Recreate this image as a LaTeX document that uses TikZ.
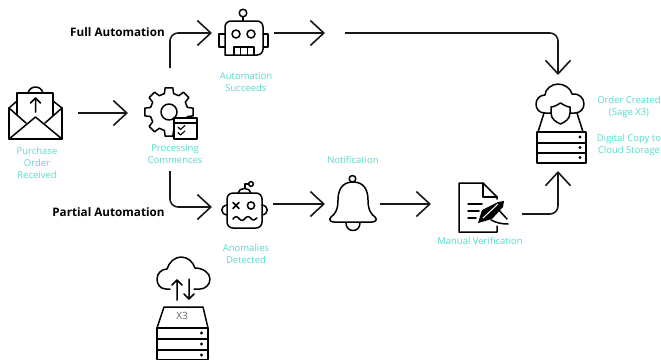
\documentclass[tikz,border=0pt]{standalone}
\usepackage{fontspec}
\setmainfont{Open Sans}
\usetikzlibrary{arrows.meta,calc}
\definecolor{teal1}{HTML}{58DBCF}
\tikzset{
  x=1pt,y=-1pt,
  icon/.style={draw=black,line width=1.5pt,line join=round,line cap=round},
  thin icon/.style={draw=black,line width=1.1pt,line join=round,line cap=round},
  slot/.style={inner sep=0pt,outer sep=0pt,minimum width=#1},
  conn/.style={draw=black!90,line width=1.6pt,-{Straight Barb[length=13.5pt,width=25pt,line width=1.6pt]},rounded corners=8pt},
  lab/.style={text=teal1,font=\fontsize{9.5}{12.2}\selectfont,align=center,inner sep=0pt},
  headlab/.style={text=black,font=\fontsize{11.7}{14}\selectfont\bfseries,inner sep=0pt},
}
\begin{document}
\begin{tikzpicture}
\useasboundingbox (0,0) rectangle (661,360);
\fill[white] (0,0) rectangle (661,360);

% invisible slots carrying the connector ends
\node[slot=54pt,minimum height=54pt] (mail) at (35,113) {};
\node[slot=52pt,minimum height=116pt] (gear) at (170,113) {};
\node[slot=62pt,minimum height=50pt] (robot) at (243,33) {};
\node[slot=61pt,minimum height=50pt] (bad) at (242.5,207) {};
\node[slot=55pt,minimum height=54pt] (bell) at (352.5,204) {};
\node[slot=91pt,minimum height=50pt] (verif) at (476.5,214) {};
\node[slot=50pt,minimum height=96pt] (order) at (558,123) {};
\coordinate (robotout) at (325,33);
\coordinate (longin) at (345,33);

% connectors
\draw[conn,shorten <=16pt,shorten >=16pt] (mail.east) -- (gear.west);
\draw[conn,shorten <=-13pt] (gear.north) |- (robot.west);
\draw[conn] (gear.south) |- (bad.west);
\draw[conn] (robot.east) -- (robotout);
\draw[conn] (longin) -| (order.north);
\draw[conn] (bad.east |- bell.west) -- (bell.west);
\draw[conn] (bell.east) -- (bell.east -| verif.west);
\draw[conn] (verif.east) -| (order.south);

% envelope
\draw[icon] (9,108) -- (9,139) -- (62,139) -- (62,108);
\draw[icon] (9,139) -- (35.5,117) -- (62,139);
\draw[icon] (17,115) -- (17,93) -- (53,93) -- (53,115);
\draw[icon] (9,108) -- (17,101) (62,108) -- (53,101);
\draw[icon] (9,108) -- (26,123) (62,108) -- (45,123);
\draw[icon] (28,93) .. controls (30,85) and (41,85) .. (43,93);
\draw[icon] (35.5,112) -- (35.5,98) (30.5,103) -- (35.5,98) -- (40.5,103);

% gear
\draw[icon] ($(169,112)+(166:19)$)
  \foreach \a in {0,45,...,315}{
    -- ($(169,112)+(180+\a-14:19)$) -- ($(169,112)+(180+\a-9:24.5)$) -- ($(169,112)+(180+\a+9:24.5)$) -- ($(169,112)+(180+\a+14:19)$)
  } -- cycle;
\draw[icon] (169,112) circle (8);
\draw[icon,fill=white] (174,118) rectangle (197,139);
\draw[icon] (174,123) -- (197,123);
\draw[thin icon] (178,127) -- (180.5,129.5) -- (185,125.5);
\draw[thin icon] (178,132.5) -- (180.5,135) -- (185,131);

% robot
\draw[icon] (225,55) -- (225,29) [rounded corners=6pt] -- (225,21) -- (263,21) -- (263,55) [sharp corners] -- cycle;
\draw[icon] (225,34) -- (219,34) -- (219,47) -- (225,47);
\draw[icon] (263,34) -- (268,34) -- (268,47) -- (263,47);
\draw[icon] (243,21) -- (243,17);
\draw[icon] (243,13) circle (3.8);
\draw[icon] (236,34) circle (4) (251,34) circle (4);
\draw[icon] (234,55) -- (234,47) -- (254,47) -- (254,55) (240.5,47) -- (240.5,55) (247.5,47) -- (247.5,55);

% unhappy robot
\draw[icon,rounded corners=6pt] (227,193) rectangle (262,228);
\draw[icon] (227,205) .. controls (220,206) and (220,214) .. (227,215);
\draw[icon] (262,205) .. controls (269,206) and (269,214) .. (262,215);
\draw[icon] (238,193) .. controls (239,187) and (250,187) .. (251,193);
\draw[icon] (245,188) -- (245,184) -- (249,184);
\draw[icon] (251,184) circle (2.4);
\draw[icon] (233,202.5) -- (239,208.5) (239,202.5) -- (233,208.5);
\draw[icon] (251,205.5) circle (3.6);
\draw[icon] (233,219) .. controls (235,216) and (237,216) .. (239,218.5) .. controls (241,221) and (243,221) .. (245,218.5) .. controls (247,216) and (249,216) .. (251,218.5) .. controls (253,221) and (255,220) .. (257,218);

% bell
\draw[icon] (353,182) .. controls (342,182) and (338,190) .. (338,200) .. controls (338,210) and (335,214) .. (331,217) .. controls (328,220) and (331,222) .. (334,222) -- (372,222) .. controls (375,222) and (378,220) .. (375,217) .. controls (371,214) and (368,210) .. (368,200) .. controls (368,190) and (364,182) .. (353,182) -- cycle;
\draw[icon] (352.5,178.8) circle (3.3);
\draw[icon] (346,223) .. controls (346,233) and (360,233) .. (360,223);

% document and pen
\draw[icon] (497,199) -- (497,197) -- (483,183) -- (459,183) -- (459,232) -- (497,232) -- (497,226);
\draw[icon] (483,183) -- (483,197) -- (497,197);
\draw[icon] (468,204) -- (482,204) (468,211) -- (479,211) (468,218) -- (476,218);
\fill[black] (478,223) -- (482,210) -- (498,202) -- (504,201) -- (503,207) -- (492,219) -- cycle;
\draw[white,line width=1pt] (483,218) -- (498,204);
\draw[icon] (497,208) -- (507,219) (491,220) .. controls (497,223) and (502,224) .. (508,224);
\draw[icon] (481,221) -- (487,219);

% order cloud server
\draw[icon] (551,113) -- (545,113) .. controls (539,113) and (536,109) .. (536,104) .. controls (536,99) and (540,95) .. (545,95) .. controls (545,89) and (552,84) .. (558,84) .. controls (565,84) and (571,89) .. (572,94) .. controls (579,93) and (584,98) .. (584,104) .. controls (584,109) and (580,113) .. (575,113) -- (570,113);
\draw[icon] (560.5,103) .. controls (557,105) and (554,107) .. (551,107) -- (551,113) .. controls (551,119) and (556,122) .. (560.5,124) .. controls (565,122) and (570,119) .. (570,113) -- (570,107) .. controls (567,107) and (564,105) .. (560.5,103) -- cycle;
\draw[icon] (538,132) -- (544,113) (583,132) -- (577,113);
\draw[icon] (537,132) rectangle (586,163) (537,143) -- (586,143) (537,153) -- (586,153);
\fill (580,137) circle (1.7) (580,147.5) circle (1.7) (580,157.5) circle (1.7);

% X3 cloud server
\draw[icon] (170,289) -- (166,289) .. controls (160,289) and (157,284) .. (157,279) .. controls (157,273) and (162,269) .. (167,269) .. controls (169,262) and (175,257) .. (181,257) .. controls (188,257) and (193,262) .. (195,268) .. controls (203,268) and (210,273) .. (210,279) .. controls (210,285) and (205,289) .. (200,289) -- (194,289);
\draw[icon] (177,300) -- (177,280) (172,285) -- (177,280) -- (182,285);
\draw[icon] (189,279) -- (189,299) (184,294) -- (189,299) -- (194,294);
\draw[icon] (157,328) -- (164,307) -- (203,307) -- (208,328);
\draw[icon] (157,328) rectangle (208,359.5) (157,339) -- (208,339) (157,350) -- (208,350);
\fill (201.5,333) circle (1.7) (201.5,344) circle (1.7) (201.5,355) circle (1.7);
\node[text=black!60,font=\fontsize{10}{12}\selectfont,inner sep=0pt] (x3) at (182,315.5) {X3};

% labels
\node[headlab] (fullauto) at (117.5,32.5) {Full Automation};
\node[headlab] (partauto) at (108.5,212.5) {Partial Automation};
\node[lab] (l1) at (37,163) {Purchase\\Order\\Received};
\node[lab] (l2) at (175,154) {Processing\\Commences};
\node[lab] (l3) at (246,82) {Automation\\Succeeds};
\node[lab] (l4) at (246,254) {Anomalies\\Detected};
\node[lab] (l5) at (353,159.5) {Notification};
\node[lab] (l6) at (480,241) {Manual Verification};
\node[lab] (l7) at (629,107) {Order Created\\(Sage X3)};
\node[lab] (l8) at (629,145) {Digital Copy to\\Cloud Storage};
\end{tikzpicture}
\end{document}
